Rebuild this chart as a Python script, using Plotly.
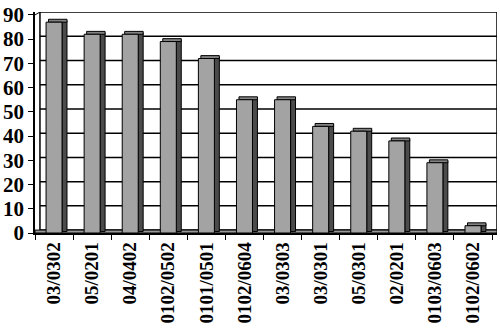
import plotly.graph_objects as go

categories = ["03/0302", "05/0201", "04/0402", "0102/0502", "0101/0501", "0102/0604",
              "03/0303", "03/0301", "05/0301", "02/0201", "0103/0603", "0102/0602"]
values = [87, 82, 82, 79, 72, 55, 55, 44, 42, 38, 29, 3]
y_ticks = [0, 10, 20, 30, 40, 50, 60, 70, 80, 90]

DX = 0.13   # depth offset in category units
DY = 1.2    # depth offset in value units
HALF = 0.21
n = len(categories)

fig = go.Figure()

# side faces
fig.add_trace(go.Bar(
    x=categories, y=values, base=[DY / 2] * n, offset=HALF, width=DX,
    marker=dict(color="#3a3a3a", line=dict(color="black", width=1),
                pattern=dict(shape=".", size=2, solidity=0.5, fgcolor="black", bgcolor="#606060")),
    hoverinfo="skip", showlegend=False))
# top faces
fig.add_trace(go.Bar(
    x=categories, y=[DY] * n, base=values, offset=-HALF + DX / 2, width=2 * HALF + DX / 2,
    marker=dict(color="#8a8a8a", line=dict(color="black", width=1),
                pattern=dict(shape=".", size=2, solidity=0.5, fgcolor="black", bgcolor="#a8a8a8")),
    hoverinfo="skip", showlegend=False))
# front faces
fig.add_trace(go.Bar(
    x=categories, y=values, offset=-HALF, width=2 * HALF,
    marker=dict(color="#a0a0a0", line=dict(color="black", width=1),
                pattern=dict(shape=".", size=2, solidity=0.5, fgcolor="#202020", bgcolor="#c8c8c8")),
    showlegend=False))

shapes = []
# back wall
shapes.append(dict(type="rect", xref="x", yref="y", x0=-0.5 + DX, x1=n - 0.5 + DX,
                   y0=DY, y1=y_ticks[-1] + DY, line=dict(color="black", width=1.5),
                   fillcolor="white", layer="below"))
for v in y_ticks[1:-1]:
    shapes.append(dict(type="line", xref="x", yref="y", x0=-0.5 + DX, x1=n - 0.5 + DX,
                       y0=v + DY, y1=v + DY, line=dict(color="black", width=1.5), layer="below"))
# floor
shapes.append(dict(type="rect", xref="x", yref="y", x0=-0.5, x1=n - 0.5 + DX,
                   y0=0, y1=DY, line=dict(color="black", width=1),
                   fillcolor="#9a9a9a", layer="below"))
# left wall edge
shapes.append(dict(type="line", xref="x", yref="y", x0=-0.5, x1=-0.5 + DX,
                   y0=y_ticks[-1], y1=y_ticks[-1] + DY, line=dict(color="black", width=1)))

fig.update_layout(
    width=500, height=330,
    margin=dict(l=35, r=3, t=5, b=97),
    paper_bgcolor="white", plot_bgcolor="white",
    barmode="overlay",
    shapes=shapes,
    font=dict(family="Liberation Serif", color="black"),
    xaxis=dict(type="category", range=[-0.5, n - 0.5 + DX], tickson="boundaries",
               ticks="outside", ticklen=5, tickcolor="black", showline=True,
               linecolor="black", linewidth=1.5, tickangle=-90, showgrid=False,
               tickfont=dict(size=19, family="Liberation Serif", weight="bold")),
    yaxis=dict(range=[0, y_ticks[-1] + DY], tickvals=y_ticks, ticks="outside", ticklen=5,
               tickcolor="black", showline=True, linecolor="black", linewidth=1.5,
               showgrid=False, zeroline=False, ticklabeloverflow="allow",
               tickfont=dict(size=21, family="Liberation Serif", weight="bold")),
)

fig.write_html("out.html")
